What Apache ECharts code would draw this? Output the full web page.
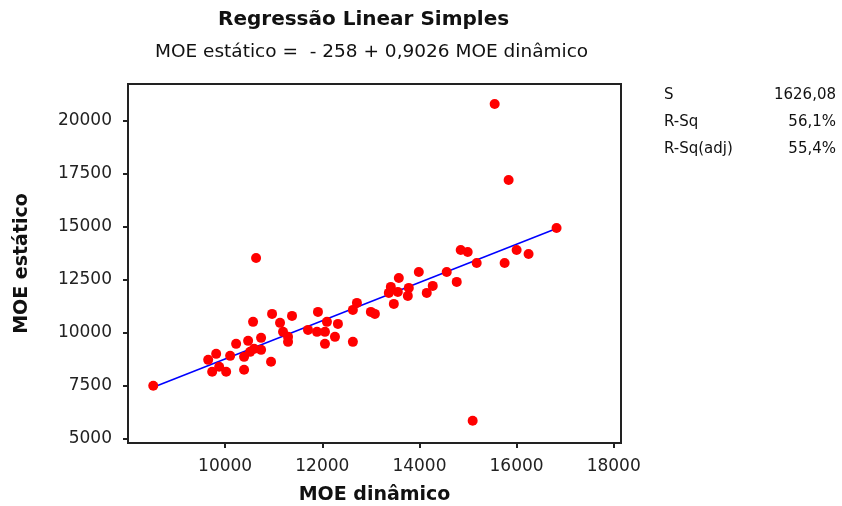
<!DOCTYPE html>
<html>
<head>
<meta charset="utf-8">
<script src="https://cdn.jsdelivr.net/npm/echarts@6/dist/echarts.min.js"></script>
<style>
  html, body { margin: 0; padding: 0; background: #fff; }
  #chart { width: 842px; height: 506px; }
</style>
</head>
<body>
<div id="chart"></div>
<script>
// valores (MOE dinâmico x MOE estático)
const moeDinamico = [
  8520, 9651, 9815, 9733, 9877, 10021, 10103, 10226, 10390, 10390,
  10473, 10575, 10514, 10596, 10740, 10740, 10637, 10945, 10966, 11130,
  11192, 11295, 11295, 11377, 11706, 11911, 12096, 11891, 12055, 12322,
  12261, 12055, 12630, 12630, 12713, 13000, 13083, 13473, 13576, 13411,
  13370, 13555, 13781, 13761, 13987, 14151, 14274, 14562, 14768, 14850,
  14994, 15179, 15754, 16001, 16247, 16823, 15836, 15549, 15096
]
const moeEstatico = [
  7500, 8726, 9009, 8160, 8396, 8160, 8915, 9481, 8255, 8868,
  9623, 10519, 9104, 9245, 9764, 9198, 13538, 8632, 10896, 10472,
  10047, 9811, 9575, 10802, 10141, 10991, 10519, 10047, 10047, 10424,
  9811, 9481, 9575, 11085, 11415, 10991, 10896, 11368, 12594, 12170,
  11887, 11934, 12123, 11745, 12877, 11887, 12217, 12877, 12406, 13915,
  13821, 13302, 13302, 13915, 13726, 14953, 17217, 20802, 5849
]

const xTicks = [10000, 12000, 14000, 16000, 18000]
const yTicks = [5000, 7500, 10000, 12500, 15000, 17500, 20000]

// equação ajustada mostrada no subtítulo
const intercept = -258
const slope = 0.9026

const statLabels = ['S', 'R-Sq', 'R-Sq(adj)']
const statValues = ['1626,08', '56,1%', '55,4%']

const points = moeDinamico.map((x, i) => [x, moeEstatico[i]])
const xMin = Math.min(...moeDinamico)
const xMax = Math.max(...moeDinamico)
const fitLine = [xMin, xMax].map(x => [x, intercept + slope * x])

const chart = echarts.init(document.getElementById('chart'))

const font = 'DejaVu Sans, Arial, sans-serif'

const statsText = []
statLabels.forEach((s, i) => {
  statsText.push({
    type: 'text', left: 664, top: 88 + i * 27,
    style: { text: s, font: '15px ' + font, fill: '#111' }
  })
  statsText.push({
    type: 'text', right: 6, top: 88 + i * 27,
    style: { text: statValues[i], font: '15px ' + font, fill: '#111', textAlign: 'right' }
  })
})

const option = {
  animation: false,
  backgroundColor: '#fff',
  textStyle: { fontFamily: font },
  grid: {
    left: 128, right: 221, top: 84, bottom: 63,
    outerBoundsMode: 'none',
    containLabel: false,
    show: true, borderColor: '#222', borderWidth: 2, backgroundColor: '#fff'
  },
  xAxis: {
    type: 'value',
    min: 8000, max: 18150,
    name: 'MOE dinâmico',
    nameLocation: 'middle',
    nameGap: 43,
    nameTextStyle: { fontSize: 19, fontWeight: 'bold', color: '#111' },
    axisLine: { onZero: false, lineStyle: { color: '#222', width: 2 } },
    axisTick: { length: 5, customValues: xTicks, lineStyle: { color: '#222', width: 2 } },
    axisLabel: { customValues: xTicks, formatter: v => String(v), fontSize: 17, color: '#222', margin: 15 },
    splitLine: { show: false }
  },
  yAxis: {
    type: 'value',
    min: 4800, max: 21750,
    name: 'MOE estático',
    nameLocation: 'middle',
    nameGap: 96,
    nameTextStyle: { fontSize: 19, fontWeight: 'bold', color: '#111' },
    axisLine: { onZero: false, lineStyle: { color: '#222', width: 2 } },
    axisTick: { length: 5, customValues: yTicks, lineStyle: { color: '#222', width: 2 } },
    axisLabel: { customValues: yTicks, formatter: v => String(v), fontSize: 17, color: '#222', margin: 16 },
    splitLine: { show: false }
  },
  graphic: [
    {
      type: 'text', left: 218, top: 10,
      style: { text: 'Regressão Linear Simples', font: 'bold 20px ' + font, fill: '#111' }
    },
    {
      type: 'text', left: 155, top: 43,
      style: { text: 'MOE estático =  - 258 + 0,9026 MOE dinâmico', font: '18.5px ' + font, fill: '#111' }
    },
    ...statsText
  ],
  series: [
    {
      type: 'line',
      data: fitLine,
      showSymbol: false,
      lineStyle: { color: '#0000ff', width: 1.5 },
      z: 2
    },
    {
      type: 'scatter',
      data: points,
      symbolSize: 10,
      itemStyle: { color: '#ff0000', opacity: 1 },
      z: 3
    }
  ]
}

chart.setOption(option)
</script>
</body>
</html>
